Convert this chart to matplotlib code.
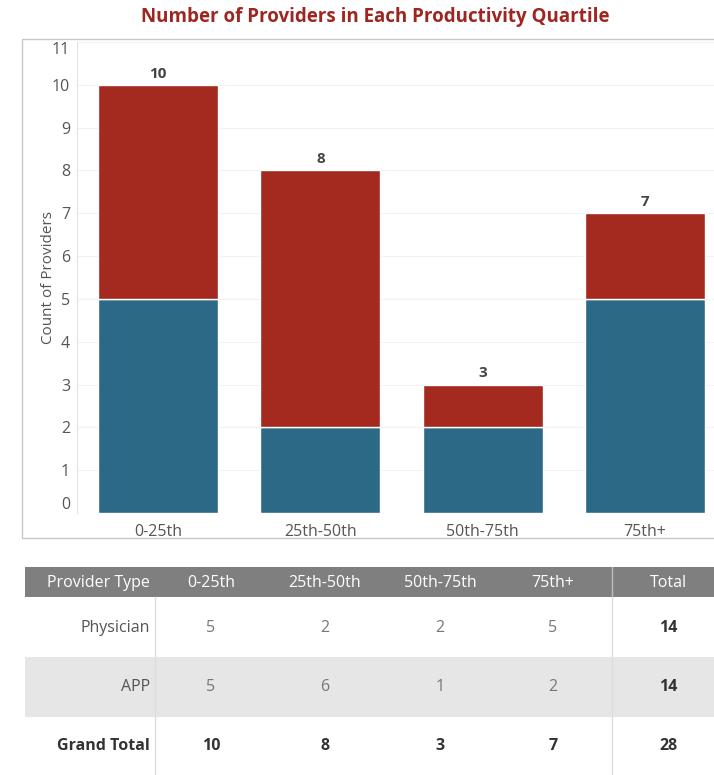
import matplotlib
matplotlib.use("Agg")
import matplotlib.pyplot as plt
from matplotlib.patches import Rectangle
import numpy as np

plt.rcParams['font.family'] = ['Open Sans', 'DejaVu Sans']

# quartile buckets and provider counts
quartiles = ["0-25th", "25th-50th", "50th-75th", "75th+"]
physician = [5, 2, 2, 5]
app = [5, 6, 1, 2]
row_names = ["Physician", "APP"]

RED = "#A4291F"
BLUE = "#2C6987"
GRAY_TXT = "#555555"

W, H = 714, 775
fig = plt.figure(figsize=(W / 100, H / 100), dpi=100)

# full-figure layer in pixel units for the frame and the table
bg = fig.add_axes([0, 0, 1, 1])
bg.set_xlim(0, W)
bg.set_ylim(H, 0)
bg.axis("off")

# chart frame (runs off the right edge)
bg.add_patch(Rectangle((22, 39), 760, 499, fill=False, ec="#C8C8C8", lw=1))

bg.text(375, 17, "Number of Providers in Each Productivity Quartile",
        ha="center", va="center", fontsize=13.5, fontweight="bold", color="#9E2520")

# bar chart
ax = fig.add_axes([77 / W, (H - 513) / H, 649 / W, 471 / H])
x = np.arange(len(quartiles))
phys = np.array(physician)
apps = np.array(app)
tot = phys + apps
ax.bar(x, phys, width=0.74, color=BLUE, edgecolor="white", linewidth=1)
ax.bar(x, apps, bottom=phys, width=0.74, color=RED, edgecolor="white", linewidth=1)
for xi, t in zip(x, tot):
    ax.annotate(str(t), (xi, t), xytext=(0, 3), textcoords="offset points",
                ha="center", va="bottom", fontsize=11, fontweight="bold", color="#444444")

ax.set_xlim(-0.5, 3.5)
ax.set_ylim(0, 11)
ax.set_yticks(range(0, 12))
ax.set_xticks(x)
ax.set_xticklabels(quartiles)
ax.tick_params(axis="both", length=0, labelsize=11.5, labelcolor=GRAY_TXT)
ax.tick_params(axis="y", pad=5)
ax.tick_params(axis="x", pad=8)
ylabels = ax.get_yticklabels()
ylabels[0].set_va("bottom")
ylabels[-1].set_va("top")
ax.grid(axis="y", color="#F2F2F2", lw=0.8)
ax.set_axisbelow(True)
for s in ["top", "right", "bottom"]:
    ax.spines[s].set_visible(False)
ax.spines["left"].set_color("#E2E2E2")
ax.set_ylabel("Count of Providers", fontsize=11, color=GRAY_TXT, labelpad=-3)

# summary table below the chart
col_x = [98, 211, 325, 440, 553, 668]
left, right = 25, 730
hdr_top, hdr_bot = 567, 597
row_edges = [597, 657, 717, 780]
row_fill = ["white", "#E6E6E6", "white"]

bg.add_patch(Rectangle((left, hdr_top), right - left, hdr_bot - hdr_top,
                       color="#7F7F7F", lw=0))
headers = ["Provider Type"] + quartiles + ["Total"]
for cx, h in zip(col_x, headers):
    bg.text(cx, (hdr_top + hdr_bot) / 2 + 1, h, ha="center", va="center",
            fontsize=11.5, color="white")
bg.plot([612, 612], [hdr_top, hdr_bot], color="#BDBDBD", lw=1)

rows = [physician, app, list(tot)]
labels = row_names + ["Grand Total"]
for i, (lab, vals) in enumerate(zip(labels, rows)):
    y0, y1 = row_edges[i], row_edges[i + 1]
    yc = [628, 687, 746][i]
    bg.add_patch(Rectangle((left, y0), right - left, y1 - y0, color=row_fill[i], lw=0))
    bold = i == 2
    bg.text(150, yc, lab, ha="right", va="center", fontsize=11.5,
            color="#333333" if bold else GRAY_TXT, fontweight="bold" if bold else "normal")
    for cx, v in zip(col_x[1:5], vals):
        bg.text(cx, yc, str(v), ha="center", va="center", fontsize=11.5,
                color="#333333" if bold else "#777777",
                fontweight="bold" if bold else "normal")
    bg.text(col_x[5], yc, str(sum(vals)), ha="center", va="center", fontsize=11.5,
            color="#333333", fontweight="bold")

bg.plot([155, 155], [hdr_bot, H], color="#DDDDDD", lw=1)
bg.plot([612, 612], [hdr_bot, H], color="#DDDDDD", lw=1)

fig.savefig("out.png", dpi=100)
